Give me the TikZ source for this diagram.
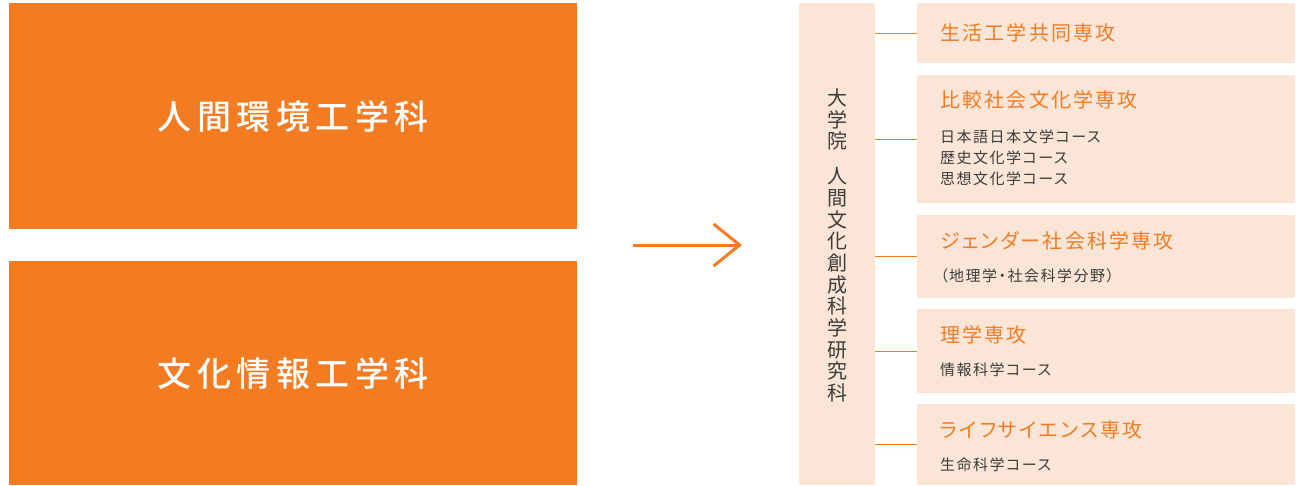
\documentclass[tikz,border=0pt]{standalone}
\usepackage{fontspec}
\usetikzlibrary{arrows.meta}
\newfontfamily\jpbig[LetterSpace=16]{Noto Sans CJK JP Medium}
\newfontfamily\jptitle[LetterSpace=11,RawFeature=+palt]{Noto Sans CJK JP}
\newfontfamily\jpsub[LetterSpace=10,RawFeature=+palt]{Noto Sans CJK JP}
\newfontfamily\jpvert{Noto Sans CJK JP}
\definecolor{orng}{HTML}{F37C22}
\definecolor{peach}{HTML}{FAE5D7}
\definecolor{txt}{HTML}{3C3C3C}
\begin{document}
\begin{tikzpicture}[x=1pt,y=-1pt,
  bigbox/.style={fill=orng, anchor=north west, inner sep=0pt, minimum width=568pt, text=white, font=\jpbig\fontsize{34}{40}\selectfont},
  pbox/.style={fill=peach, anchor=north west, inner sep=0pt, minimum width=378pt},
  ttl/.style={anchor=west, inner sep=0pt, text=orng, font=\jptitle\fontsize{20}{24}\selectfont},
  sub/.style={anchor=west, inner sep=0pt, text=txt, align=left, font=\jpsub\fontsize{15}{21}\selectfont},
  link/.style={draw=orng, line width=1pt}]
\useasboundingbox (0,0) rectangle (1303,485);
% left boxes
\node[bigbox, minimum height=226pt] (b1) at (9,3) {人間環境工学科};
\node[bigbox, minimum height=224pt] (b2) at (9,261) {文化情報工学科};
% arrow
\coordinate (as) at (633,245);
\coordinate (ae) at (742,245);
\draw[orng, line width=3pt, -{Straight Barb[length=26pt,width=42pt]}] (as) -- (ae);
% vertical bar
\node[fill=peach, anchor=north west, inner sep=0pt, minimum width=76pt, minimum height=482pt] (bar) at (799,3) {};
\node[inner sep=0pt, text=txt, align=center, font=\jpvert\fontsize{20}{21.7}\selectfont] (vt) at (837,245.5)
  {大\\学\\院\\[13pt]人\\間\\文\\化\\創\\成\\科\\学\\研\\究\\科};
% right boxes
\node[pbox, minimum height=60pt] (r1) at (917,3) {};
\node[pbox, minimum height=128pt] (r2) at (917,75) {};
\node[pbox, minimum height=83pt] (r3) at (917,215) {};
\node[pbox, minimum height=84pt] (r4) at (917,309) {};
\node[pbox, minimum height=81pt] (r5) at (917,404) {};
% titles and courses
\node[ttl] (t1) at (940,33) {生活工学共同専攻};
\node[ttl] (t2) at (940,100) {比較社会文化学専攻};
\node[sub] (s2) at (940,157.5) {日本語日本文学コース\\歴史文化学コース\\思想文化学コース};
\node[ttl] (t3) at (940,241) {ジェンダー社会科学専攻};
\node[sub] (s3) at (940,276) {（地理学・社会科学分野）};
\node[ttl] (t4) at (940,335) {理学専攻};
\node[sub] (s4) at (940,370) {情報科学コース};
\node[ttl] (t5) at (940,430) {ライフサイエンス専攻};
\node[sub] (s5) at (940,465) {生命科学コース};
% connectors
\foreach \r in {r1,r2,r3,r4,r5}
  \draw[link] (\r.west) -- (\r.west -| bar.east);
\end{tikzpicture}
\end{document}
